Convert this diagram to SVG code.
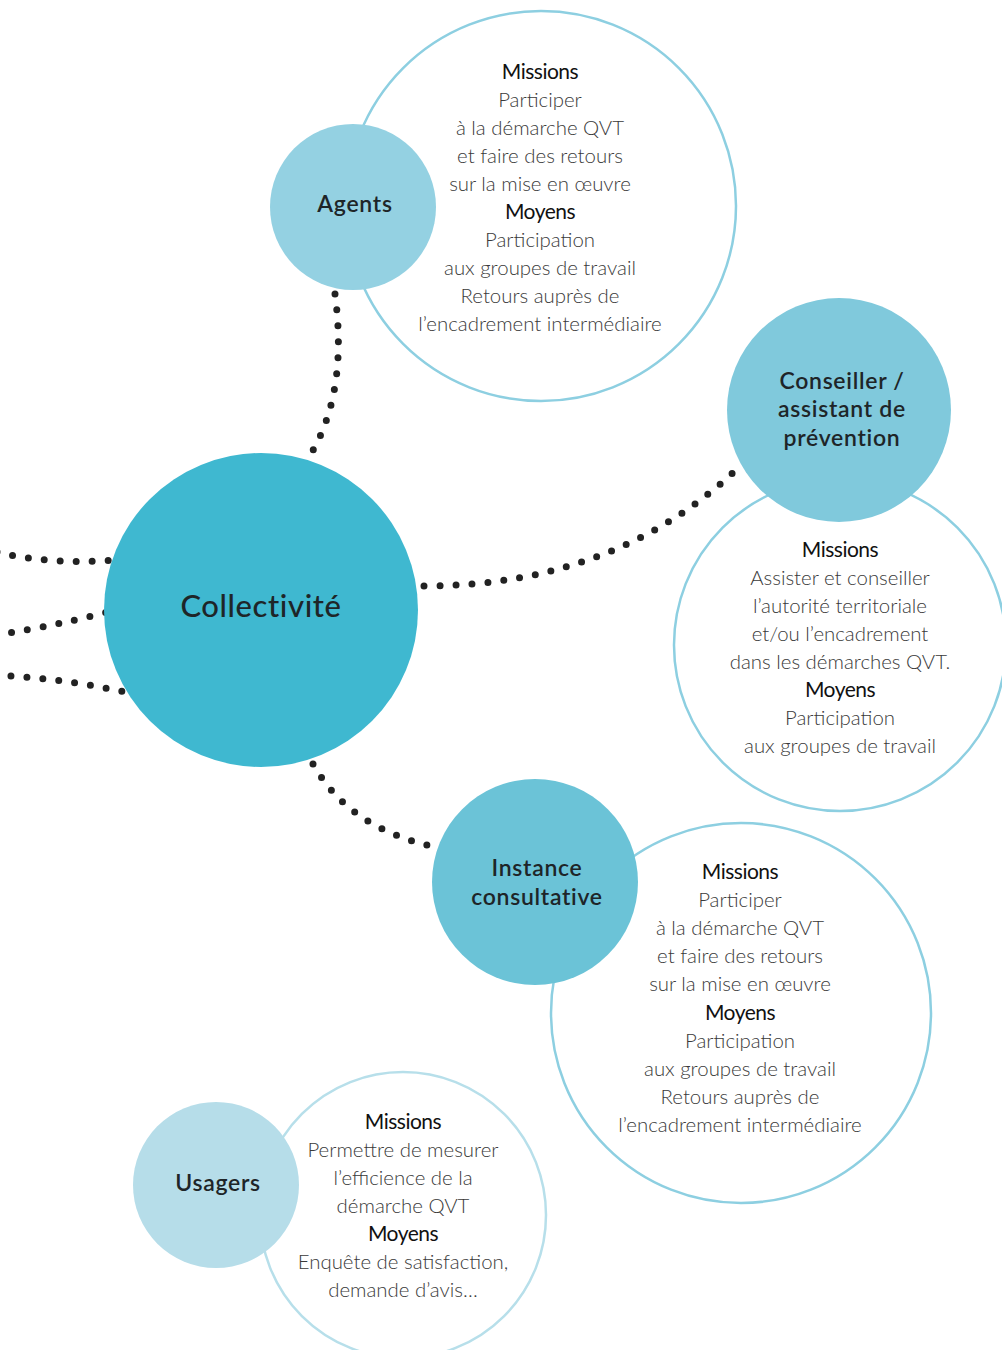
<svg xmlns="http://www.w3.org/2000/svg" width="1002" height="1350" viewBox="0 0 1002 1350">
<style>
.ring{fill:#ffffff;stroke:#8dcfe1;stroke-width:2.5}
.ring2{fill:#ffffff;stroke:#b7dfea;stroke-width:2.5}
.dots{fill:none;stroke:#222222;stroke-width:7;stroke-linecap:round;stroke-dasharray:0 16}
.body{font-family:Lato,"Liberation Sans",sans-serif;font-weight:300;font-size:20.4px;fill:#3a3a3a;text-anchor:middle}
.head{font-family:Lato,"Liberation Sans",sans-serif;font-weight:400;font-size:21px;fill:#111111;text-anchor:middle;letter-spacing:-0.5px}
.lbl{font-family:Lato,"Liberation Sans",sans-serif;font-weight:600;font-size:23px;fill:#1e2528;text-anchor:middle;letter-spacing:0.7px}
</style>
<rect width="1002" height="1350" fill="#ffffff"/>

<g id="agents-details">
<circle class="ring" cx="541" cy="206" r="195"/>
<text class="head" x="540" y="79">Missions</text>
<text class="body" x="540" y="107">Participer</text>
<text class="body" x="540" y="135">à la démarche QVT</text>
<text class="body" x="540" y="163">et faire des retours</text>
<text class="body" x="540" y="191">sur la mise en œuvre</text>
<text class="head" x="540" y="219">Moyens</text>
<text class="body" x="540" y="247">Participation</text>
<text class="body" x="540" y="275">aux groupes de travail</text>
<text class="body" x="540" y="303">Retours auprès de</text>
<text class="body" x="540" y="331">l’encadrement intermédiaire</text>
</g>

<g id="conseiller-details">
<circle class="ring" cx="840" cy="645" r="166"/>
<text class="head" x="840" y="557">Missions</text>
<text class="body" x="840" y="585">Assister et conseiller</text>
<text class="body" x="840" y="613">l’autorité territoriale</text>
<text class="body" x="840" y="641">et/ou l’encadrement</text>
<text class="body" x="840" y="669">dans les démarches QVT.</text>
<text class="head" x="840" y="697">Moyens</text>
<text class="body" x="840" y="725">Participation</text>
<text class="body" x="840" y="753">aux groupes de travail</text>
</g>

<g id="instance-details">
<circle class="ring" cx="741" cy="1013" r="190"/>
<text class="head" x="740" y="879">Missions</text>
<text class="body" x="740" y="907">Participer</text>
<text class="body" x="740" y="935">à la démarche QVT</text>
<text class="body" x="740" y="963">et faire des retours</text>
<text class="body" x="740" y="991">sur la mise en œuvre</text>
<text class="head" x="740" y="1020">Moyens</text>
<text class="body" x="740" y="1048">Participation</text>
<text class="body" x="740" y="1076">aux groupes de travail</text>
<text class="body" x="740" y="1104">Retours auprès de</text>
<text class="body" x="740" y="1132">l’encadrement intermédiaire</text>
</g>

<g id="usagers-details">
<circle class="ring2" cx="403" cy="1215" r="143"/>
<text class="head" x="403" y="1129">Missions</text>
<text class="body" x="403" y="1157">Permettre de mesurer</text>
<text class="body" x="403" y="1185">l’efficience de la</text>
<text class="body" x="403" y="1213">démarche QVT</text>
<text class="head" x="403" y="1241">Moyens</text>
<text class="body" x="403" y="1269">Enquête de satisfaction,</text>
<text class="body" x="403" y="1297">demande d’avis…</text>
</g>

<g id="connectors">
<path class="dots" d="M335 294 C341 340 342 400 312 452"/>
<path class="dots" d="M424 586 C560 586 665 540 742 464"/>
<path class="dots" d="M313 764 Q350 830 440 848"/>
<path class="dots" d="M-3 552 Q50 565 114 560"/>
<path class="dots" d="M-4 635 Q50 627 108 612"/>
<path class="dots" d="M-5 675 Q60 678 125 692"/>
</g>

<g id="agents">
<circle cx="353" cy="207" r="83" fill="#94d1e2"/>
<text class="lbl" x="355" y="212">Agents</text>
</g>

<g id="conseiller">
<circle cx="839" cy="410" r="112" fill="#80c9dc"/>
<text class="lbl" x="842" y="389">Conseiller /</text>
<text class="lbl" x="842" y="417">assistant de</text>
<text class="lbl" x="842" y="446">prévention</text>
</g>

<g id="collectivite">
<circle cx="261" cy="610" r="157" fill="#3fb8d0"/>
<text class="lbl" x="261" y="617" style="font-size:31px;font-weight:500;letter-spacing:0.6px">Collectivité</text>
</g>

<g id="instance">
<circle cx="535" cy="882" r="103" fill="#6bc3d7"/>
<text class="lbl" x="537" y="876">Instance</text>
<text class="lbl" x="537" y="905">consultative</text>
</g>

<g id="usagers">
<circle cx="216" cy="1185" r="83" fill="#b6dde9"/>
<text class="lbl" x="218" y="1191">Usagers</text>
</g>
</svg>
